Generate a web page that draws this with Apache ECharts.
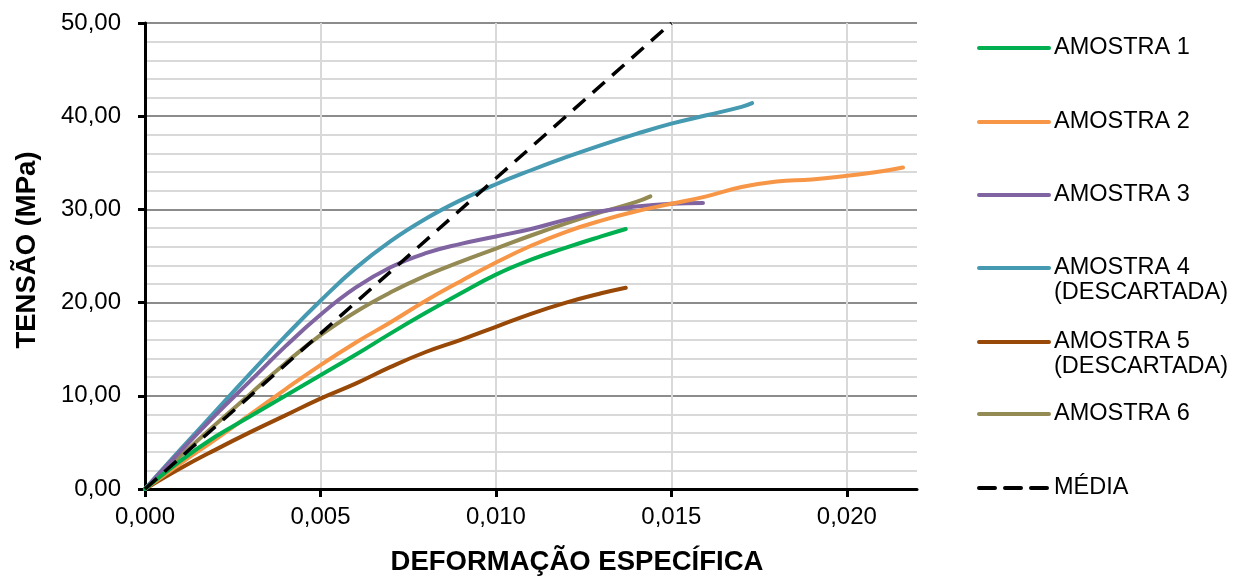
<!DOCTYPE html>
<html>
<head>
<meta charset="utf-8">
<script src="https://cdn.jsdelivr.net/npm/echarts@6/dist/echarts.min.js"></script>
<style>
  html, body { margin: 0; padding: 0; background: #ffffff; }
  #chart { width: 1250px; height: 581px; }
</style>
</head>
<body>
<div id="chart"></div>
<script>
// ---- Data (strain [-], stress [MPa]) ----
const seriesNames = ['AMOSTRA 1', 'AMOSTRA 2', 'AMOSTRA 3', 'AMOSTRA 4', 'AMOSTRA 5', 'AMOSTRA 6', 'MÉDIA'];
const secondLines = ['', '', '', '(DESCARTADA)', '(DESCARTADA)', '', ''];

const amostra1 = [[0,0],[0.001,3.0],[0.002,5.6],[0.003,7.8],[0.004,10.0],[0.005,12.2],[0.006,14.4],[0.007,16.7],[0.008,18.9],[0.009,21.0],[0.010,23.0],[0.011,24.6],[0.012,25.9],[0.013,27.1],[0.0137,27.9]];
const amostra2 = [[0,0],[0.001,2.7],[0.002,5.3],[0.003,8.0],[0.004,10.7],[0.005,13.3],[0.006,15.7],[0.007,17.9],[0.008,20.2],[0.009,22.3],[0.010,24.3],[0.011,26.1],[0.012,27.6],[0.013,28.8],[0.014,29.8],[0.015,30.6],[0.016,31.4],[0.017,32.4],[0.018,33.0],[0.019,33.2],[0.020,33.6],[0.021,34.1],[0.0216,34.5]];
const amostra3 = [[0,0],[0.001,4.0],[0.002,7.9],[0.003,11.6],[0.004,15.3],[0.005,18.7],[0.006,21.6],[0.007,23.8],[0.008,25.3],[0.009,26.3],[0.010,27.1],[0.011,27.9],[0.012,28.9],[0.013,29.8],[0.014,30.3],[0.015,30.6],[0.0159,30.7]];
const amostra4 = [[0,0],[0.001,4.2],[0.002,8.3],[0.003,12.4],[0.004,16.4],[0.005,20.2],[0.006,23.7],[0.007,26.6],[0.008,29.0],[0.009,31.0],[0.010,32.7],[0.011,34.2],[0.012,35.6],[0.013,36.9],[0.014,38.1],[0.015,39.2],[0.016,40.1],[0.017,41.0],[0.0173,41.4]];
const amostra5 = [[0,0],[0.001,2.2],[0.002,4.2],[0.003,6.1],[0.004,7.9],[0.005,9.7],[0.006,11.3],[0.007,13.1],[0.008,14.7],[0.009,16.0],[0.010,17.4],[0.011,18.8],[0.012,20.0],[0.013,21.0],[0.0137,21.6]];
const amostra6 = [[0,0],[0.001,3.5],[0.002,6.9],[0.003,10.2],[0.004,13.5],[0.005,16.5],[0.006,19.0],[0.007,21.1],[0.008,22.9],[0.009,24.4],[0.010,25.8],[0.011,27.2],[0.012,28.5],[0.013,29.7],[0.014,30.8],[0.0144,31.4]];
const media = [[0,0],[0.015,50]];

const xTickValues = [0, 0.005, 0.010, 0.015, 0.020];
const colors = ['#00B050', '#F79646', '#8064A2', '#4599B0', '#984807', '#948A54', '#000000'];
const allData = [amostra1, amostra2, amostra3, amostra4, amostra5, amostra6, media];

const FONT = "'Liberation Sans', Arial, sans-serif";
const legendCY = [48, 122, 195, 268, 342, 414, 488];

const chart = echarts.init(document.getElementById('chart'), null, { renderer: 'canvas' });

const series = seriesNames.map((n, i) => ({
  name: n,
  type: 'line',
  data: allData[i],
  smooth: i === 6 ? false : 0.45,
  showSymbol: false,
  symbol: 'none',
  clip: true,
  lineStyle: { color: colors[i], width: i === 6 ? 3.5 : 4, type: i === 6 ? [16, 10] : 'solid', cap: i === 6 ? 'butt' : 'round' },
  itemStyle: { color: colors[i] },
  z: i === 6 ? 10 : 5 - i * 0.1,
  emphasis: { disabled: true }
}));

const legends = seriesNames.map((n, i) => ({
  data: [n],
  orient: 'vertical',
  left: 977,
  top: legendCY[i] - 13,
  padding: 0,
  itemWidth: 70,
  itemHeight: 14,
  itemGap: 8,
  selectedMode: false,
  itemStyle: { opacity: 0 },
  lineStyle: { width: 4, cap: 'round' },
  textStyle: { fontFamily: FONT, fontSize: 23.5, color: '#000', lineHeight: 26 }
}));

const graphics = [];
secondLines.forEach((t, i) => {
  if (t) {
    graphics.push({
      type: 'text', left: 1054, top: legendCY[i] + 13,
      style: { text: t, font: "23.5px 'Liberation Sans', Arial, sans-serif", fill: '#000' }
    });
  }
});

chart.setOption({
  animation: false,
  backgroundColor: '#ffffff',
  grid: { left: 145, right: 333, top: 23, bottom: 90, containLabel: false },
  legend: legends,
  graphic: graphics,
  xAxis: {
    type: 'value',
    min: 0, max: 0.022, interval: 0.001,
    name: 'DEFORMAÇÃO ESPECÍFICA',
    nameLocation: 'middle',
    nameGap: 59,
    nameTextStyle: { fontFamily: FONT, fontSize: 27.5, fontWeight: 'bold', color: '#000', padding: [0, 0, 0, 92] },
    axisLine: { show: true, onZero: false, lineStyle: { color: '#000', width: 3 } },
    axisTick: { show: true, customValues: xTickValues, length: 8, inside: false, lineStyle: { color: '#000', width: 3 } },
    axisLabel: { customValues: xTickValues, margin: 16, fontFamily: FONT, fontSize: 24, color: '#000',
      formatter: v => v.toFixed(3).replace('.', ',') },
    splitLine: { show: true, lineStyle: { color: '#d9d9d9', width: 2 } }
  },
  yAxis: {
    type: 'value',
    min: 0, max: 50, interval: 10,
    name: 'TENSÃO (MPa)',
    nameLocation: 'middle',
    nameGap: 104,
    nameRotate: 90,
    nameTextStyle: { fontFamily: FONT, fontSize: 27.5, fontWeight: 'bold', color: '#000', padding: [0, 0, 0, 12] },
    axisLine: { show: true, onZero: false, lineStyle: { color: '#000', width: 3 } },
    axisTick: { show: true, length: 7, lineStyle: { color: '#000', width: 3 } },
    minorTick: { show: false, splitNumber: 5 },
    minorSplitLine: { show: true, lineStyle: { color: '#d9d9d9', width: 2 } },
    axisLabel: { margin: 24, fontFamily: FONT, fontSize: 24, color: '#000',
      formatter: v => v.toFixed(2).replace('.', ',') },
    splitLine: { show: true, lineStyle: { color: '#8c8c8c', width: 2 } }
  },
  series: series
});
</script>
</body>
</html>
